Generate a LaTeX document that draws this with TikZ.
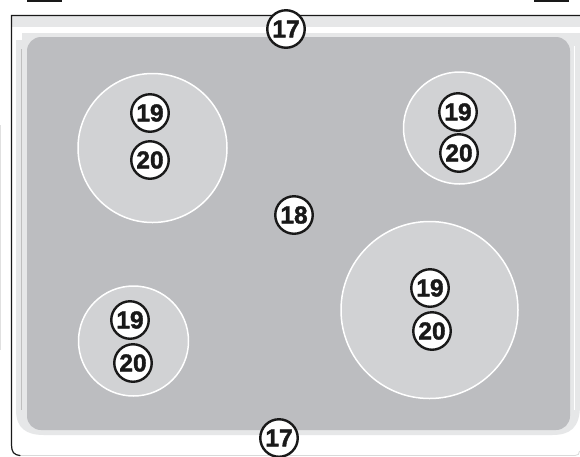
\documentclass[tikz,border=0pt]{standalone}
\usepackage{fontspec}
\setmainfont{Liberation Sans}
\newfontface\calloutfont[FakeBold=1.6]{Liberation Sans Bold}
\definecolor{plate}{HTML}{BCBDC0}
\definecolor{zone}{HTML}{D1D2D4}
\definecolor{band}{HTML}{E6E7E8}
\tikzset{
  callout/.style={circle,draw=black!90,fill=white,line width=2.4pt,minimum size=37.5pt,inner sep=0pt,
    text=black!90,font=\fontsize{24.5}{25}\calloutfont},
  cook/.style={draw=white,fill=zone,line width=1.5pt}
}
\begin{document}
\begin{tikzpicture}[x=1pt,y=-1pt]
\useasboundingbox (0,0) rectangle (580,456);
\fill[white] (0,0) rectangle (580,456);
% top tabs and stray left edge
\fill[black!90] (27,0) rectangle (62,2);
\fill[black!90] (534,0) rectangle (569,2);
\fill[black!12] (0,125) rectangle (1,350);
% lower light rim
\fill[band] (16,40) -- (16,410) .. controls (16,428) and (26,435) .. (44,435) -- (552,435)
  .. controls (570,435) and (580,428) .. (580,405) -- (580,37) -- (22,37) -- (22,40) -- cycle;
% top band
\fill[band] (12,16) rectangle (580,27);
\fill[white] (12,27) rectangle (580,33);
\fill[band] (22,33) rectangle (580,37);
\fill[band] (16,40) rectangle (27,60);
\fill[white] (13,27) rectangle (16,440);
% rim lines
\draw[line width=1pt,black!25] (21.5,49) -- (21.5,410);
\draw[line width=1.5pt,white] (574.5,46) -- (574.5,410);
% glass plate
\fill[plate,rounded corners=14pt] (27,37) rectangle (570,430);
% outer frame
\draw[black!15,line width=.8pt] (20,455.5) -- (575,455.5) .. controls (578,455.5) and (579.5,454) .. (579.5,451);
\draw[black!90,line width=1.2pt,line cap=round] (580,15.5) -- (11.5,15.5) -- (11.5,445)
  .. controls (11.5,452) and (14,455) .. (20,455.5);
% cooking zones
\path[cook] (152.5,148) circle[radius=74.5];
\path[cook] (459.5,128) circle[radius=56];
\path[cook] (133.5,341) circle[radius=55];
\path[cook] (429.5,310) circle[radius=88.5];
% callouts
\node[callout] (a) at (286,29) {17};
\node[callout] (b) at (279,438) {17};
\node[callout] (c) at (294,215) {18};
\node[callout] (d) at (150,113) {19};
\node[callout] (e) at (150,160) {20};
\node[callout] (f) at (458,112) {19};
\node[callout] (g) at (459,153) {20};
\node[callout] (h) at (130,320) {19};
\node[callout] (i) at (133,363) {20};
\node[callout] (j) at (430,288) {19};
\node[callout] (k) at (432,331) {20};
\end{tikzpicture}
\end{document}
